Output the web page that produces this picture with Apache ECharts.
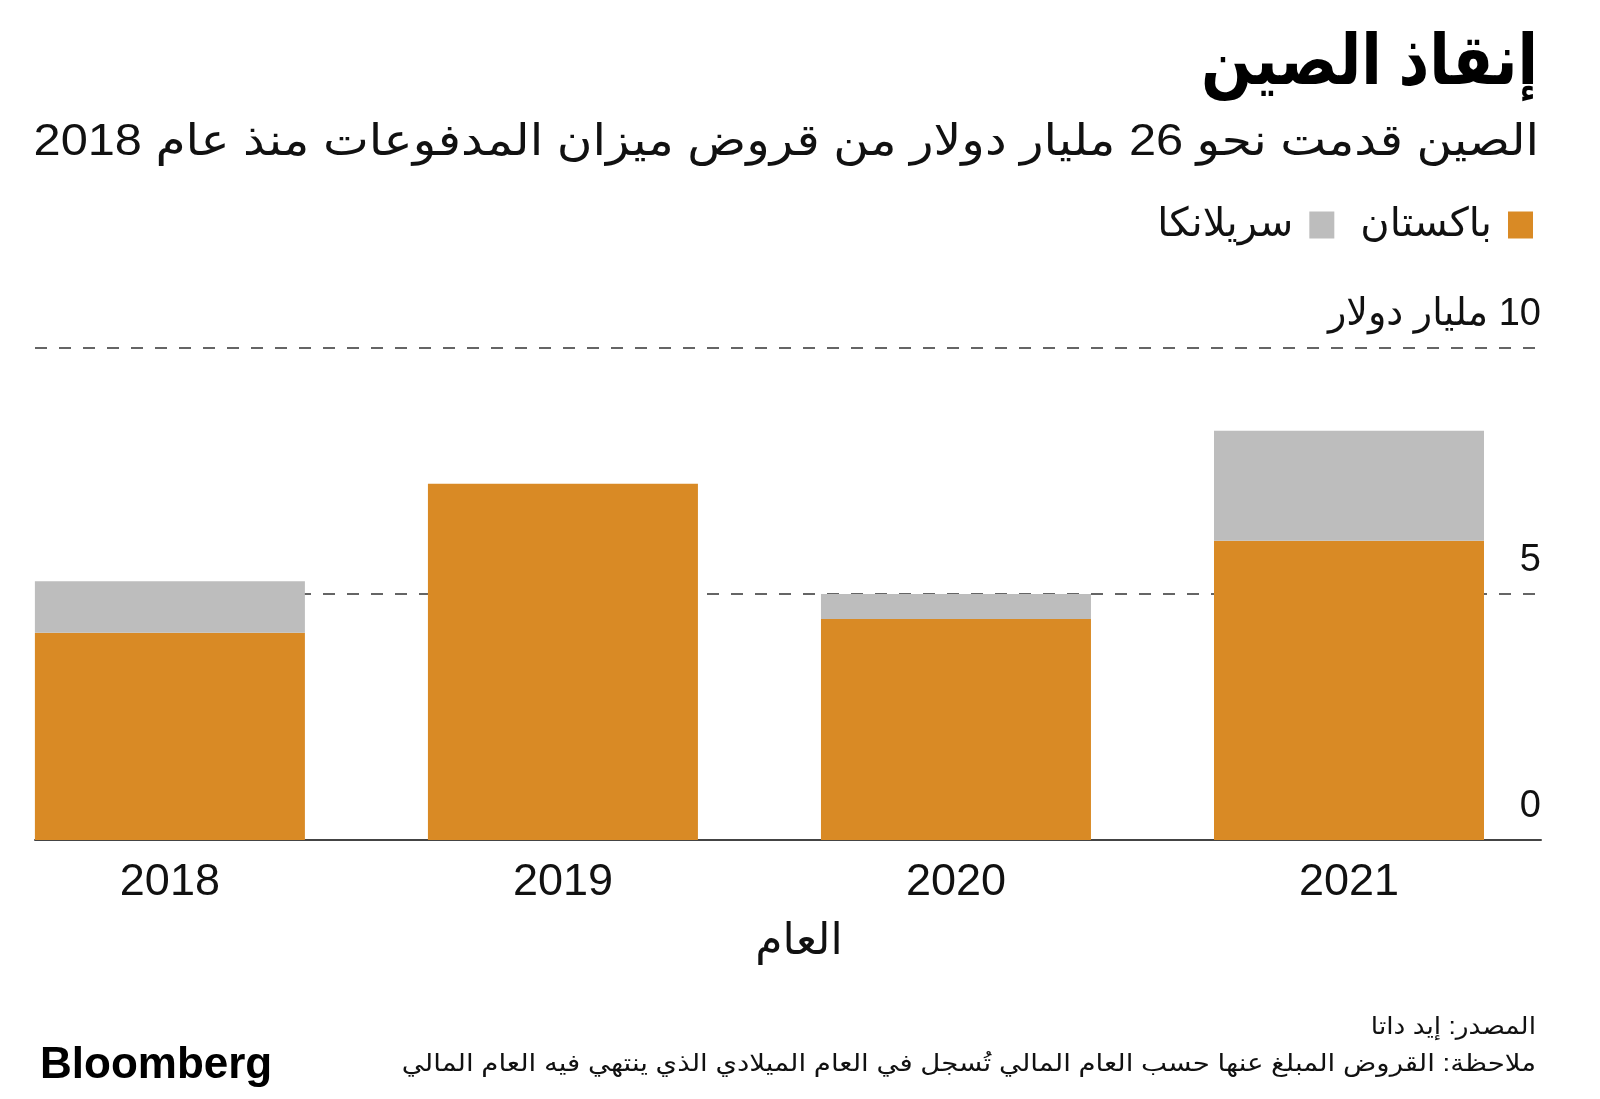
<!DOCTYPE html>
<html>
<head>
<meta charset="utf-8">
<script src="https://cdn.jsdelivr.net/npm/echarts@6/dist/echarts.min.js"></script>
<style>
html,body{margin:0;padding:0;background:#fff;}
#chart{width:1600px;height:1099px;direction:rtl;}
</style>
</head>
<body>
<div id="chart"></div>
<script>
const years = ['2018', '2019', '2020', '2021'];
const pakistan = [4.21, 7.24, 4.49, 6.08];
const sriLanka = [1.05, 0, 0.51, 2.24];
const seriesNames = ['باكستان', 'سريلانكا'];
const yTickLabels = {0: '0', 5: '5', 10: '10 مليار دولار'};
const titleText = 'إنقاذ الصين';
const subtitleText = 'الصين قدمت نحو 26 مليار دولار من قروض ميزان المدفوعات منذ عام 2018';
const xAxisName = 'العام';
const sourceText = 'المصدر: إيد داتا';
const noteText = 'ملاحظة: القروض المبلغ عنها حسب العام المالي تُسجل في العام الميلادي الذي ينتهي فيه العام المالي';

const FONT = "'Liberation Sans', 'DejaVu Sans', sans-serif";
const chart = echarts.init(document.getElementById('chart'), null, {renderer: 'canvas'});
const option = {
  backgroundColor: '#ffffff',
  animation: false,
  textStyle: {fontFamily: FONT},
  grid: [
    {left: 169.9, top: 348, width: 1179.1, height: 492},
    {left: 35, top: 348, width: 1506, height: 492}
  ],
  legend: {
    data: [seriesNames[1], seriesNames[0]],
    right: 67, top: 205,
    padding: 0,
    align: 'right',
    icon: 'rect',
    itemWidth: 25, itemHeight: 27, itemGap: 26,
    textStyle: {fontSize: 40, color: '#111', fontFamily: FONT, padding: [0, 11, 0, 0]}
  },
  xAxis: [
    {gridIndex: 0, type: 'category', data: years, boundaryGap: false,
     axisLine: {show: false}, axisTick: {show: false}, splitLine: {show: false},
     axisLabel: {fontSize: 45, color: '#111', margin: 20, fontFamily: FONT}},
    {gridIndex: 1, type: 'category', data: years,
     axisLine: {show: true, lineStyle: {color: '#444', width: 2}},
     axisTick: {show: false}, axisLabel: {show: false},
     name: xAxisName, nameLocation: 'middle', nameGap: 80,
     nameTextStyle: {fontSize: 44, color: '#111', fontFamily: FONT, padding: [0, 0, 0, 22]}}
  ],
  yAxis: [
    {gridIndex: 0, type: 'value', min: 0, max: 10, interval: 5, show: false},
    {gridIndex: 1, type: 'value', min: 0, max: 10, interval: 5, position: 'right',
     axisLine: {show: false}, axisTick: {show: false},
     splitLine: {lineStyle: {type: [12, 12], color: '#333', width: 1.5}},
     axisLabel: {inside: true, margin: 0, fontSize: 38, color: '#111', fontFamily: FONT,
       verticalAlign: 'bottom', padding: [0, 0, 14, 0],
       formatter: v => yTickLabels[v] !== undefined ? yTickLabels[v] : ''}}
  ],
  series: [
    {name: seriesNames[0], type: 'bar', stack: 'total', xAxisIndex: 0, yAxisIndex: 0,
     clip: false, barWidth: 270, itemStyle: {color: '#D98A25'}, data: pakistan},
    {name: seriesNames[1], type: 'bar', stack: 'total', xAxisIndex: 0, yAxisIndex: 0,
     clip: false, barWidth: 270, itemStyle: {color: '#BDBDBD'}, data: sriLanka}
  ],
  graphic: [
    {type: 'text', x: 1538, y: 30, scaleY: 1.17,
     style: {text: titleText, fontSize: 60, fontWeight: 'bold', fill: '#000', fontFamily: FONT, textAlign: 'right', textVerticalAlign: 'top'}},
    {type: 'text', x: 1539, y: 121, scaleX: 1.107,
     style: {text: subtitleText, fontSize: 44, fill: '#111', fontFamily: FONT, textAlign: 'right', textVerticalAlign: 'top'}},
    {type: 'text', x: 1536, y: 1015, scaleX: 1.1,
     style: {text: sourceText, fontSize: 24, fill: '#111', fontFamily: FONT, textAlign: 'right', textVerticalAlign: 'top'}},
    {type: 'text', x: 1536, y: 1052, scaleX: 1.15,
     style: {text: noteText, fontSize: 24, fill: '#111', fontFamily: FONT, textAlign: 'right', textVerticalAlign: 'top'}},
    {type: 'text', x: 40, y: 1044,
     style: {text: 'Bloomberg', fontSize: 44, fontWeight: 'bold', fill: '#000', fontFamily: FONT, textAlign: 'left', textVerticalAlign: 'top'}}
  ]
};
chart.setOption(option);
</script>
</body>
</html>
